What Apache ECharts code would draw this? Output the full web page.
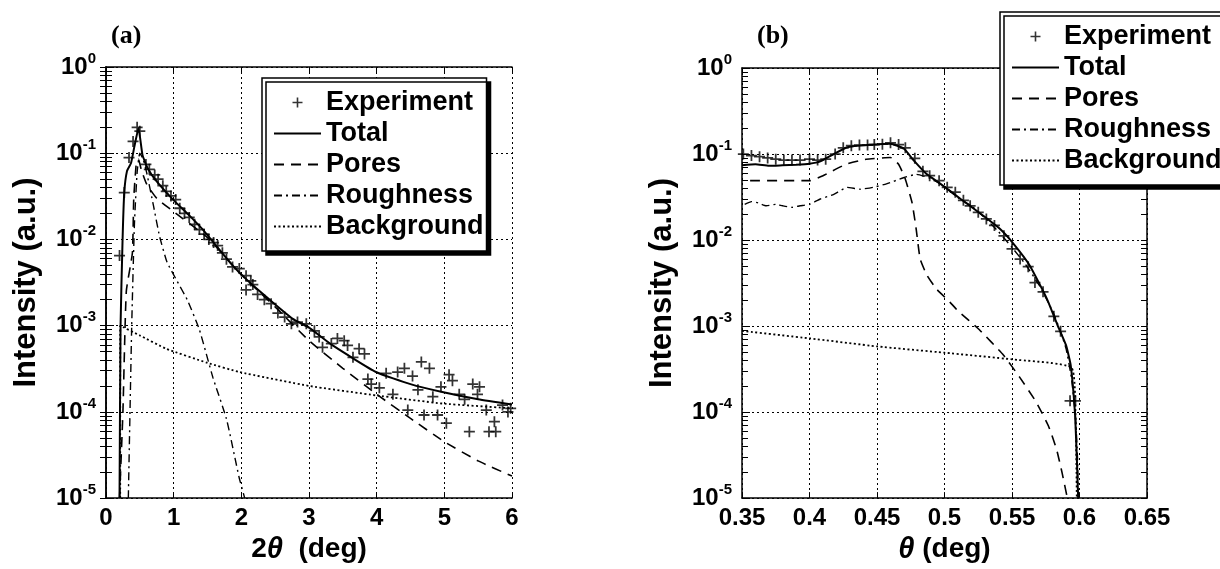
<!DOCTYPE html>
<html>
<head>
<meta charset="utf-8">
<script src="https://cdn.jsdelivr.net/npm/echarts@6/dist/echarts.min.js"></script>
<style>
  html, body { margin: 0; padding: 0; background: #fff; }
  #main { width: 1220px; height: 569px; }
</style>
</head>
<body>
<div id="main"></div>
<script>
// panel (a): intensity vs 2theta
var expA = [[0.20,6.5e-3],[0.27,3.5e-2],[0.34,8.9e-2],[0.40,1.37e-1],[0.46,2.0e-1],[0.50,1.8e-1],
  [0.59,7.4e-2],[0.64,6.5e-2],[0.72,5.6e-2],[0.77,5.0e-2],[0.84,4.2e-2],[0.89,3.6e-2],[0.96,3.2e-2],
  [1.03,2.9e-2],[1.09,2.3e-2],[1.16,2.0e-2],[1.23,1.8e-2],[1.31,1.5e-2],[1.38,1.3e-2],[1.45,1.15e-2],
  [1.52,1.0e-2],[1.59,9.2e-3],[1.65,8.5e-3],[1.72,7.0e-3],[1.78,5.9e-3],[1.87,4.8e-3],[1.97,4.6e-3],
  [2.07,3.8e-3],[2.14,3.3e-3],[2.07,2.6e-3],[2.17,3.0e-3],[2.24,2.3e-3],[2.34,2.0e-3],[2.44,1.8e-3],
  [2.54,1.4e-3],[2.64,1.26e-3],[2.74,1.05e-3],[2.83,1.1e-3],[2.96,1.05e-3],[3.08,8.7e-4],[3.15,7.4e-4],
  [3.20,5.6e-4],[3.33,6.2e-4],[3.42,7.1e-4],[3.52,6.7e-4],[3.57,5.9e-4],[3.65,4.3e-4],[3.74,5.4e-4],
  [3.82,4.7e-4],[3.87,2.4e-4],[3.92,2.1e-4],[4.04,1.9e-4],[4.14,2.8e-4],[4.24,1.6e-4],[4.31,2.9e-4],
  [4.41,3.2e-4],[4.46,1.05e-4],[4.53,2.6e-4],[4.61,1.8e-4],[4.66,3.8e-4],[4.70,9.2e-5],[4.78,3.2e-4],
  [4.83,1.5e-4],[4.90,9.2e-5],[4.95,1.95e-4],[5.03,7.4e-5],[5.07,2.7e-4],[5.12,2.3e-4],[5.22,1.6e-4],
  [5.30,1.4e-4],[5.37,5.9e-5],[5.42,2.1e-4],[5.49,1.6e-4],[5.52,1.95e-4],[5.62,1.05e-4],[5.66,5.9e-5],
  [5.74,7.7e-5],[5.76,5.9e-5],[5.86,1.2e-4],[5.94,1.0e-4],[5.98,1.1e-4]];
var totalA = [[0.20,1e-5],[0.215,1e-3],[0.245,1e-2],[0.27,3.5e-2],[0.31,6.2e-2],[0.37,7.7e-2],[0.42,0.12],
  [0.48,0.195],[0.54,0.095],[0.62,0.066],[0.74,0.048],[0.99,0.029],[1.23,0.019],[1.45,0.0125],[1.87,5.0e-3],
  [2.2,2.8e-3],[2.76,1.2e-3],[3.0,9.5e-4],[3.35,5.9e-4],[3.99,2.9e-4],[4.5,2.1e-4],[4.97,1.7e-4],
  [5.5,1.4e-4],[6.0,1.22e-4]];
var poresA = [[0.20,1e-5],[0.25,1e-4],[0.30,2.5e-3],[0.39,7e-3],[0.41,3e-2],[0.45,8e-2],[0.48,8.5e-2],
  [0.52,6.5e-2],[0.6,4.4e-2],[0.75,3.0e-2],[1.0,2.1e-2],[1.5,1.05e-2],[2.0,3.9e-3],[2.5,1.65e-3],
  [3.0,6.7e-4],[3.5,3.2e-4],[4.0,1.6e-4],[4.5,8.4e-5],[5.0,4.5e-5],[5.5,2.7e-5],[6.0,1.8e-5]];
var roughA = [[0.33,1e-5],[0.38,1e-3],[0.42,1.5e-2],[0.46,6e-2],[0.50,0.1],[0.55,8.5e-2],[0.6,6e-2],
  [0.7,2.5e-2],[0.79,1.1e-2],[0.9,5.5e-3],[1.04,3.4e-3],[1.2,2.0e-3],[1.38,9e-4],[1.58,2.5e-4],
  [1.78,8.3e-5],[1.97,1.7e-5],[2.05,1e-5]];
var bgA = [[0.21,1e-5],[0.21,1e-3],[0.5,7.7e-4],[0.89,5.4e-4],[1.5,3.7e-4],[1.97,2.9e-4],[3.0,2.0e-4],
  [4.0,1.55e-4],[4.97,1.25e-4],[6.0,1.1e-4]];

// panel (b): intensity vs theta
var expB = [[0.351,0.100],[0.357,0.096],[0.363,0.093],[0.369,0.090],[0.375,0.087],[0.381,0.085],
  [0.387,0.085],[0.393,0.085],[0.400,0.087],[0.406,0.085],[0.412,0.087],[0.419,0.100],[0.425,0.118],
  [0.431,0.125],[0.437,0.127],[0.443,0.127],[0.448,0.129],[0.454,0.130],[0.460,0.135],[0.466,0.129],
  [0.471,0.118],[0.478,0.089],[0.484,0.063],[0.489,0.056],[0.496,0.049],[0.502,0.041],[0.508,0.036],
  [0.514,0.029],[0.519,0.025],[0.525,0.021],[0.531,0.0176],[0.537,0.0148],[0.544,0.0112],[0.550,0.0079],
  [0.556,0.006],[0.562,0.0049],[0.567,0.0032],[0.573,0.0025],[0.581,0.0013],[0.586,8.7e-4],
  [0.593,1.35e-4],[0.597,1.35e-4]];
var totalB = [[0.35,0.074],[0.36,0.076],[0.37,0.073],[0.38,0.074],[0.39,0.075],[0.40,0.077],[0.408,0.082],
  [0.418,0.10],[0.428,0.12],[0.445,0.128],[0.46,0.132],[0.47,0.115],[0.477,0.085],[0.487,0.058],
  [0.497,0.045],[0.512,0.030],[0.529,0.019],[0.541,0.0135],[0.551,0.0091],[0.563,0.0051],[0.5757,0.0021],
  [0.584,1.0e-3],[0.590,6.0e-4],[0.5935,3.5e-4],[0.5966,1e-4],[0.598,3e-5],[0.599,1e-5]];
var poresB = [[0.356,0.049],[0.40,0.049],[0.41,0.056],[0.427,0.076],[0.442,0.087],[0.46,0.091],
  [0.466,0.076],[0.471,0.051],[0.476,0.027],[0.479,0.0135],[0.482,0.006],[0.487,0.0039],[0.494,0.0027],
  [0.504,0.0019],[0.51,0.0015],[0.526,9.0e-4],[0.5436,4.6e-4],[0.556,2.5e-4],[0.568,1.3e-4],
  [0.577,6.9e-5],[0.583,3.7e-5],[0.587,2.0e-5],[0.591,1e-5]];
var roughB = [[0.352,0.026],[0.357,0.028],[0.362,0.027],[0.368,0.025],[0.375,0.026],[0.38,0.025],
  [0.387,0.024],[0.393,0.025],[0.40,0.026],[0.408,0.030],[0.418,0.034],[0.428,0.041],[0.4376,0.039],
  [0.447,0.041],[0.457,0.045],[0.4696,0.053],[0.479,0.058],[0.49,0.052],[0.5,0.042],[0.51,0.031],
  [0.52,0.025],[0.53,0.018],[0.54,0.0125],[0.55,0.0082],[0.56,0.0052],[0.57,0.003],[0.58,0.0015],
  [0.585,9.5e-4],[0.59,5.5e-4],[0.594,2.5e-4],[0.597,9e-5],[0.5985,3e-5],[0.599,1e-5]];
var bgB = [[0.35,8.8e-4],[0.40,7.2e-4],[0.45,5.8e-4],[0.50,4.9e-4],[0.55,4.1e-4],[0.594,3.3e-4],
  [0.597,1e-4],[0.598,1e-5]];

var names = ['Experiment', 'Total', 'Pores', 'Roughness', 'Background'];
var decades = [1e-5, 1e-4, 1e-3, 1e-2, 1e-1];
var minorMult = [1, 2, 3, 4, 5, 6, 7, 8, 9];

var FONT = "'Liberation Sans', Arial, sans-serif";
var minorTicks = [];
decades.forEach(function (d) {
  minorMult.forEach(function (m) { minorTicks.push(+(m * d).toPrecision(3)); });
});
minorTicks.push(1);

var chart = echarts.init(document.getElementById('main'));

var plus = 'path://M4.2,0H5.8V4.2H10V5.8H5.8V10H4.2V5.8H0V4.2H4.2Z';
var styles = {
  Total: { type: 'solid', width: 2 },
  Pores: { type: [10, 7], width: 1.6 },
  Roughness: { type: [8, 4, 2, 4], width: 1.4 },
  Background: { type: [2, 2.5], width: 1.8 }
};

function xAxes(gi, min, max, interval, nameText) {
  return [{
    gridIndex: gi, type: 'value', min: min, max: max, interval: interval, position: 'bottom',
    axisLine: { lineStyle: { color: '#000', width: 1.5 } },
    axisTick: { inside: true, length: 6, lineStyle: { color: '#000' } },
    axisLabel: { color: '#000', fontFamily: FONT, fontSize: 24, fontWeight: 'bold', margin: 8 },
    splitLine: { show: true, lineStyle: { color: '#000', width: 1, type: [2, 3] } },
    name: nameText, nameLocation: 'middle', nameGap: 30,
    nameTextStyle: {
      rich: {
        n: { fontFamily: FONT, fontSize: 28, fontWeight: 'bold', color: '#000' },
        t: { fontFamily: FONT, fontSize: 29, fontWeight: 'bold', fontStyle: 'italic', color: '#000' }
      }
    }
  }, {
    gridIndex: gi, type: 'value', min: min, max: max, interval: interval, position: 'top',
    axisLine: { lineStyle: { color: '#000', width: 1.5 } },
    axisTick: { inside: true, length: 6, lineStyle: { color: '#000' } },
    axisLabel: { show: false }, splitLine: { show: false }
  }];
}

function yAxes(gi) {
  var base = { gridIndex: gi, type: 'log', logBase: 10, min: 1e-5, max: 1 };
  return [Object.assign({}, base, {
    position: 'left',
    axisLine: { show: true, lineStyle: { color: '#000', width: 1.5 } },
    axisTick: { show: true, inside: true, length: 8, lineStyle: { color: '#000' } },
    axisLabel: {
      margin: 10, color: '#000',
      formatter: function (v) {
        return '{b|10}{s|' + Math.round(Math.log10(v)) + '}';
      },
      rich: {
        b: { fontFamily: FONT, fontSize: 24, fontWeight: 'bold', color: '#000', verticalAlign: 'bottom', lineHeight: 24 },
        s: { fontFamily: FONT, fontSize: 15, fontWeight: 'bold', color: '#000', verticalAlign: 'bottom', lineHeight: 15, padding: [0, 0, 13, 0] }
      }
    },
    splitLine: { show: true, lineStyle: { color: '#000', width: 1, type: [2, 3] } },
    name: 'Intensity (a.u.)', nameLocation: 'middle', nameGap: 64, nameRotate: 90,
    nameTextStyle: { fontFamily: FONT, fontSize: 31, fontWeight: 'bold', color: '#000' }
  }), Object.assign({}, base, {
    position: 'right',
    axisLine: { show: true, lineStyle: { color: '#000', width: 1.5 } },
    axisTick: { show: true, inside: true, length: 6, customValues: minorTicks, lineStyle: { color: '#000' } },
    axisLabel: { show: false }, splitLine: { show: false }
  }), Object.assign({}, base, {
    position: 'left', offset: 0,
    axisLine: { show: false },
    axisTick: { show: true, inside: true, length: 6, customValues: minorTicks, lineStyle: { color: '#000' } },
    axisLabel: { show: false }, splitLine: { show: false }
  })];
}

function panelSeries(gi, exp, total, pores, rough, bg) {
  var out = [{
    name: 'Experiment', type: 'scatter', xAxisIndex: gi * 2, yAxisIndex: gi * 3,
    data: exp, symbol: plus, symbolSize: 11, symbolKeepAspect: true,
    itemStyle: { color: '#000' }, z: 5
  }];
  [['Total', total], ['Pores', pores], ['Roughness', rough], ['Background', bg]].forEach(function (p) {
    out.push({
      name: p[0], type: 'line', xAxisIndex: gi * 2, yAxisIndex: gi * 3, data: p[1],
      symbol: 'none', showSymbol: false, smooth: 0.15, clip: true,
      lineStyle: { color: '#000', width: styles[p[0]].width, type: styles[p[0]].type },
      // transparent item colour so the legend shows only the line
      itemStyle: { color: 'rgba(0,0,0,0)' }
    });
  });
  return out;
}

function legend(left, top) {
  return {
    orient: 'vertical', left: left, top: top, selectedMode: false,
    data: names, itemWidth: 47, itemHeight: 10, itemGap: 4,
    padding: [11, 3, 11, 11],
    backgroundColor: '#fff', borderColor: '#000', borderWidth: 1.5,
    shadowColor: '#000', shadowOffsetX: 4, shadowOffsetY: 4, shadowBlur: 0,
    textStyle: { fontFamily: FONT, fontSize: 27, fontWeight: 'bold', color: '#000', lineHeight: 26 }
  };
}

chart.setOption({
  animation: false,
  backgroundColor: '#fff',
  title: [
    { text: '(a)', left: 111, top: 23, padding: 0,
      textStyle: { fontFamily: "'Liberation Serif', serif", fontSize: 26, fontWeight: 'bold', color: '#000' } },
    { text: '(b)', left: 757, top: 23, padding: 0,
      textStyle: { fontFamily: "'Liberation Serif', serif", fontSize: 26, fontWeight: 'bold', color: '#000' } }
  ],
  grid: [
    { left: 106, top: 67, width: 406, height: 433 },
    { left: 742, top: 68, width: 405, height: 432 }
  ],
  legend: [legend(262, 78), legend(1000, 12)],
  xAxis: xAxes(0, 0, 6, 1, '{n|2}{t|θ}{n|  (deg)}').concat(xAxes(1, 0.35, 0.65, 0.05, '{t|θ}{n| (deg)}')),
  yAxis: yAxes(0).concat(yAxes(1)),
  series: panelSeries(0, expA, totalA, poresA, roughA, bgA).concat(panelSeries(1, expB, totalB, poresB, roughB, bgB))
});
</script>
</body>
</html>
